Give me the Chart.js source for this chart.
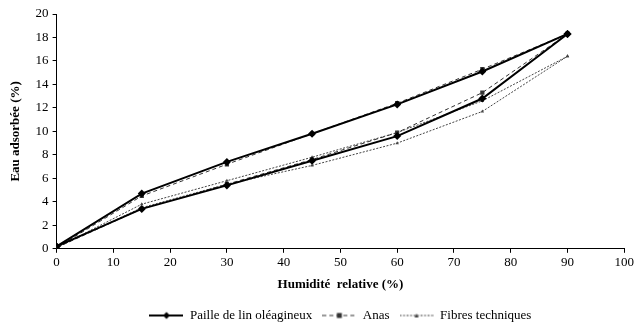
<!DOCTYPE html>
<html>
<head>
<meta charset="utf-8">
<script src="https://cdn.jsdelivr.net/npm/chart.js@4/dist/chart.umd.min.js"></script>
<style>
html,body{margin:0;padding:0;background:#fff;}
#wrap{width:636px;height:326px;}
</style>
</head>
<body>
<div id="wrap"><canvas id="c" width="636" height="326"></canvas></div>
<script>
const humidity = [0, 15, 30, 45, 60, 75, 90];
const pailleAdsorption = [0.2, 3.4, 5.4, 7.5, 9.6, 12.8, 18.3];
const pailleDesorption = [0.2, 4.7, 7.4, 9.8, 12.3, 15.1, 18.3];
const anasAdsorption = [0.1, 3.4, 5.5, 7.6, 9.9, 13.3, 18.3];
const anasDesorption = [0.1, 4.5, 7.2, 9.8, 12.4, 15.3, 18.3];
const fibresAdsorption = [0.1, 3.5, 5.5, 7.1, 9.0, 11.7, 16.4];
const fibresDesorption = [0.1, 3.8, 5.8, 7.8, 9.9, 12.6, 16.4];
const seriesNames = ["Paille de lin oléagineux", "Anas", "Fibres techniques"];
const xTitle = "Humidité  relative (%)";
const yTitle = "Eau adsorbée (%)";

const FONT = "'Liberation Serif', 'Times New Roman', serif";
const styles = [
  {color:'#000', width:2, dash:[], point:'rectRot', radius:4},
  {color:'#333', width:1, dash:[4,3], point:'rect', radius:3},
  {color:'#444', width:1, dash:[2,1.5], point:'triangle', radius:2}
];

function legendIcon(s){
  const cv = document.createElement('canvas');
  cv.width = 34; cv.height = 10;
  const g = cv.getContext('2d');
  g.strokeStyle = s.color; g.lineWidth = s.width; g.setLineDash(s.dash);
  g.beginPath(); g.moveTo(0,5); g.lineTo(34,5); g.stroke();
  g.setLineDash([]); g.fillStyle = s.color;
  g.beginPath();
  if (s.point==='rectRot'){ g.moveTo(17,1.5); g.lineTo(20.5,5); g.lineTo(17,8.5); g.lineTo(13.5,5); }
  else if (s.point==='rect'){ g.rect(14.5,2.5,5,5); }
  else { g.moveTo(17,3); g.lineTo(19,7); g.lineTo(15,7); }
  g.closePath(); g.fill();
  return cv;
}
const icons = styles.map(legendIcon);

function mk(label, vals, s, idx, hidden){
  return {
    label: label,
    data: humidity.map((x,i)=>({x:x, y:vals[i]})),
    borderColor: s.color, backgroundColor: s.color,
    borderWidth: s.width, borderDash: s.dash,
    pointStyle: s.point, pointRadius: s.radius,
    pointBorderWidth: 0, tension: 0, fill:false,
    legendIdx: hidden ? -1 : idx
  };
}

const datasets = [
  mk(seriesNames[0], pailleAdsorption, styles[0], 0, false),
  mk(seriesNames[0], pailleDesorption, styles[0], 0, true),
  mk(seriesNames[1], anasAdsorption, styles[1], 1, false),
  mk(seriesNames[1], anasDesorption, styles[1], 1, true),
  mk(seriesNames[2], fibresAdsorption, styles[2], 2, false),
  mk(seriesNames[2], fibresDesorption, styles[2], 2, true)
];

const legendShift = {
  id: 'legendShift',
  afterLayout(chart){
    const lg = chart.legend;
    if (lg){ lg.top += 6; lg.bottom += 6; }
  }
};

new Chart(document.getElementById('c'), {
  type: 'line',
  data: { datasets: datasets },
  plugins: [legendShift],
  options: {
    responsive: false,
    animation: false,
    layout: { padding: { left: 8, right: 5, top: 14, bottom: 0 } },
    plugins: {
      tooltip: { enabled: false },
      legend: {
        position: 'bottom',
        fullSize: false,
        labels: {
          font: { family: FONT, size: 13 },
          color: '#000',
          usePointStyle: true,
          pointStyleWidth: 34,
          boxHeight: 10,
          padding: 10,
          generateLabels: function(chart){
            return chart.data.datasets.map((d,i)=>({d:d,i:i})).filter(o=>o.d.legendIdx>=0).map(o=>({
              text: o.d.label,
              pointStyle: icons[o.d.legendIdx],
              fillStyle: o.d.borderColor,
              strokeStyle: o.d.borderColor,
              lineWidth: 0,
              fontColor: '#000',
              hidden: false,
              datasetIndex: o.i
            }));
          }
        }
      }
    },
    scales: {
      x: {
        type: 'linear', min: 0, max: 100,
        ticks: { stepSize: 10, color: '#000', font: { family: FONT, size: 13 }, padding: 2 },
        grid: { drawOnChartArea: false, drawTicks: true, tickLength: 4, color: '#000' },
        border: { color: '#000', width: 1 },
        title: { display: true, text: xTitle, color: '#000', font: { family: FONT, size: 13, weight: 'bold' }, padding: { top: 4, bottom: 1 } }
      },
      y: {
        min: 0, max: 20,
        ticks: { stepSize: 2, color: '#000', font: { family: FONT, size: 13 }, padding: 4 },
        grid: { drawOnChartArea: false, drawTicks: true, tickLength: 4, color: '#000' },
        border: { color: '#000', width: 1 },
        title: { display: true, text: yTitle, color: '#000', font: { family: FONT, size: 13, weight: 'bold' }, padding: { top: 0, bottom: 8 } }
      }
    }
  }
});
</script>
</body>
</html>
